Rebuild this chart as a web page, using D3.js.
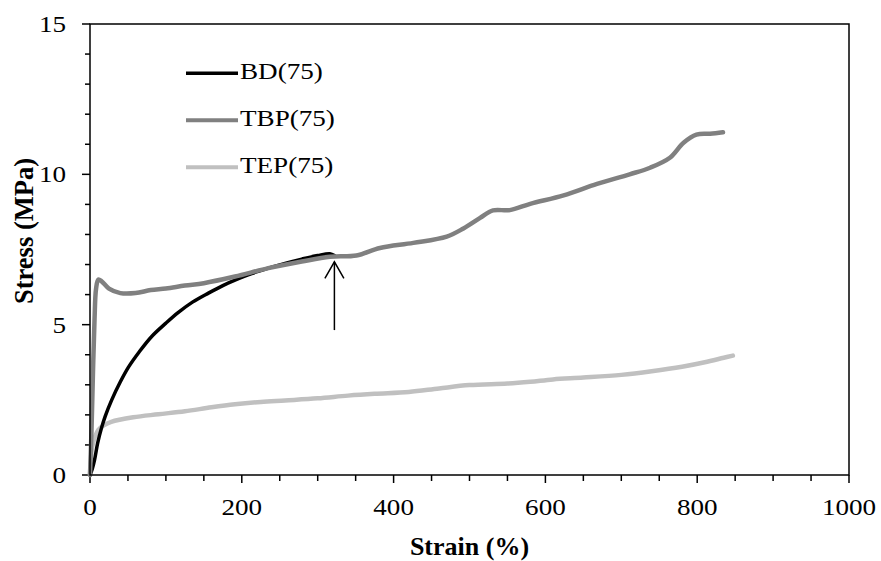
<!DOCTYPE html>
<html><head><meta charset="utf-8">
<script src="https://cdn.jsdelivr.net/npm/d3@7"></script>
<style>html,body{margin:0;padding:0;background:#fff;}svg{display:block;}</style>
</head><body>
<svg id="chart" width="881" height="561"></svg>
<script>
// ---------- data (strain %, stress MPa) ----------
const seriesNames = ["BD(75)", "TBP(75)", "TEP(75)"];
const bdData = [[0,0],[3,0.2],[6,0.5],[10,1.05],[15,1.55],[20,1.95],[28.5,2.49],[40,3.1],[50.5,3.58],[65,4.1],[81,4.6],[100,5.05],[116,5.4],[135,5.75],[156,6.05],[175,6.3],[191,6.48],[213,6.7],[235,6.88],[257,7.04],[279,7.18],[300,7.3],[316,7.36],[322,7.3]];
const tbpData = [[0,0],[2,1.5],[4,3.5],[6,5.2],[8,6.2],[11,6.5],[15,6.45],[25,6.2],[40,6.05],[60,6.05],[80,6.15],[100,6.2],[125,6.3],[150,6.38],[191,6.6],[235,6.88],[279,7.1],[316,7.26],[351,7.3],[382,7.55],[426,7.72],[470,7.93],[492,8.2],[514,8.55],[531,8.8],[553,8.81],[580,9.02],[624,9.3],[668,9.68],[711,10.0],[738,10.22],[764,10.55],[782,11.05],[799,11.32],[817,11.35],[834,11.4]];
const tepData = [[0,0],[1,0.5],[3,0.95],[6.6,1.27],[11,1.5],[18,1.65],[28,1.77],[57,1.92],[90,2.02],[125,2.12],[160,2.25],[191,2.35],[225,2.43],[257,2.48],[300,2.55],[340,2.64],[375,2.7],[420,2.76],[460,2.88],[500,2.99],[550,3.04],[580,3.1],[610,3.18],[650,3.24],[700,3.33],[740,3.45],[780,3.6],[810,3.75],[835,3.9],[847,3.97]];
const xTickValues = [0, 200, 400, 600, 800, 1000];
const yTickValues = [0, 5, 10, 15];
const arrowStrain = 322, arrowFrom = 4.82, arrowTo = 7.09;

// ---------- layout ----------
const svg = d3.select("#chart");
const L = 90, R = 849, T = 24, B = 475;
const x = d3.scaleLinear().domain([0, 1000]).range([L, R]);
const y = d3.scaleLinear().domain([0, 15]).range([B, T]);
const serif = "'Liberation Serif', 'Times New Roman', serif";
const fs = 24, sx = 1.13;

// minor ticks
const xMinor = d3.range(0, 1001, 50);
const yMinor = d3.range(0, 16, 1);
const gAxis = svg.append("g").attr("stroke", "#000").attr("stroke-width", 1.5);
gAxis.selectAll(".xt").data(xMinor).join("line")
  .attr("x1", d => x(d)).attr("x2", d => x(d))
  .attr("y1", B).attr("y2", d => d % 200 === 0 ? B + 8 : B + 6);
gAxis.selectAll(".yt").data(yMinor).join("line")
  .attr("y1", d => y(d)).attr("y2", d => y(d))
  .attr("x1", L).attr("x2", d => d % 5 === 0 ? L - 8 : L - 5);

// series
const line = d3.line().x(d => x(d[0])).y(d => y(d[1])).curve(d3.curveCatmullRom.alpha(0.5));
const series = [
  {name: seriesNames[2], data: tepData, color: "#c0c0c0", w: 4.5},
  {name: seriesNames[0], data: bdData, color: "#000000", w: 3.5},
  {name: seriesNames[1], data: tbpData, color: "#808080", w: 4.5}
];
svg.append("g").selectAll("path").data(series).join("path")
  .attr("d", d => line(d.data)).attr("fill", "none")
  .attr("stroke", d => d.color).attr("stroke-width", d => d.w)
  .attr("stroke-linejoin", "round").attr("stroke-linecap", "round");

// frame
svg.append("rect").attr("x", L).attr("y", T).attr("width", R - L).attr("height", B - T)
  .attr("fill", "none").attr("stroke", "#000").attr("stroke-width", 1.5);

// tick labels
svg.append("g").selectAll("text").data(xTickValues).join("text")
  .attr("transform", d => `translate(${x(d)},515) scale(${sx},1)`)
  .attr("text-anchor", "middle").attr("font-family", serif).attr("font-size", fs)
  .text(d => d);
svg.append("g").selectAll("text").data(yTickValues).join("text")
  .attr("transform", d => `translate(66,${y(d) + 8}) scale(${sx},1)`)
  .attr("text-anchor", "end").attr("font-family", serif).attr("font-size", fs)
  .text(d => d);

// axis titles
svg.append("text").attr("x", (L + R) / 2).attr("y", 555)
  .attr("text-anchor", "middle").attr("font-family", serif).attr("font-size", 26)
  .attr("font-weight", "bold").text("Strain (%)");
svg.append("text").attr("transform", "translate(33,231) rotate(-90)")
  .attr("text-anchor", "middle").attr("font-family", serif).attr("font-size", 28)
  .attr("font-weight", "bold").attr("textLength", 146).attr("lengthAdjust", "spacingAndGlyphs")
  .text("Stress (MPa)");

// arrow
const ax = x(arrowStrain);
const ga = svg.append("g").attr("stroke", "#000").attr("stroke-width", 1.5).attr("fill", "none");
ga.append("line").attr("x1", ax).attr("x2", ax).attr("y1", y(arrowFrom)).attr("y2", y(arrowTo));
ga.append("path").attr("d", `M${ax - 9.5},${y(arrowTo) + 16.5} L${ax},${y(arrowTo)} L${ax + 9.5},${y(arrowTo) + 16.5}`);

// legend
const legend = [
  {name: seriesNames[0], color: "#000000", w: 3.5},
  {name: seriesNames[1], color: "#808080", w: 4},
  {name: seriesNames[2], color: "#c0c0c0", w: 4}
];
const lg = svg.append("g").selectAll("g").data(legend).join("g")
  .attr("transform", (d, i) => `translate(186,${73.3 + i * 47})`);
lg.append("line").attr("x1", 0).attr("x2", 52).attr("y1", 0).attr("y2", 0)
  .attr("stroke", d => d.color).attr("stroke-width", d => d.w);
lg.append("text").attr("transform", `translate(54,6) scale(${sx},1)`)
  .attr("font-family", serif).attr("font-size", fs).text(d => d.name);
</script>
</body></html>
